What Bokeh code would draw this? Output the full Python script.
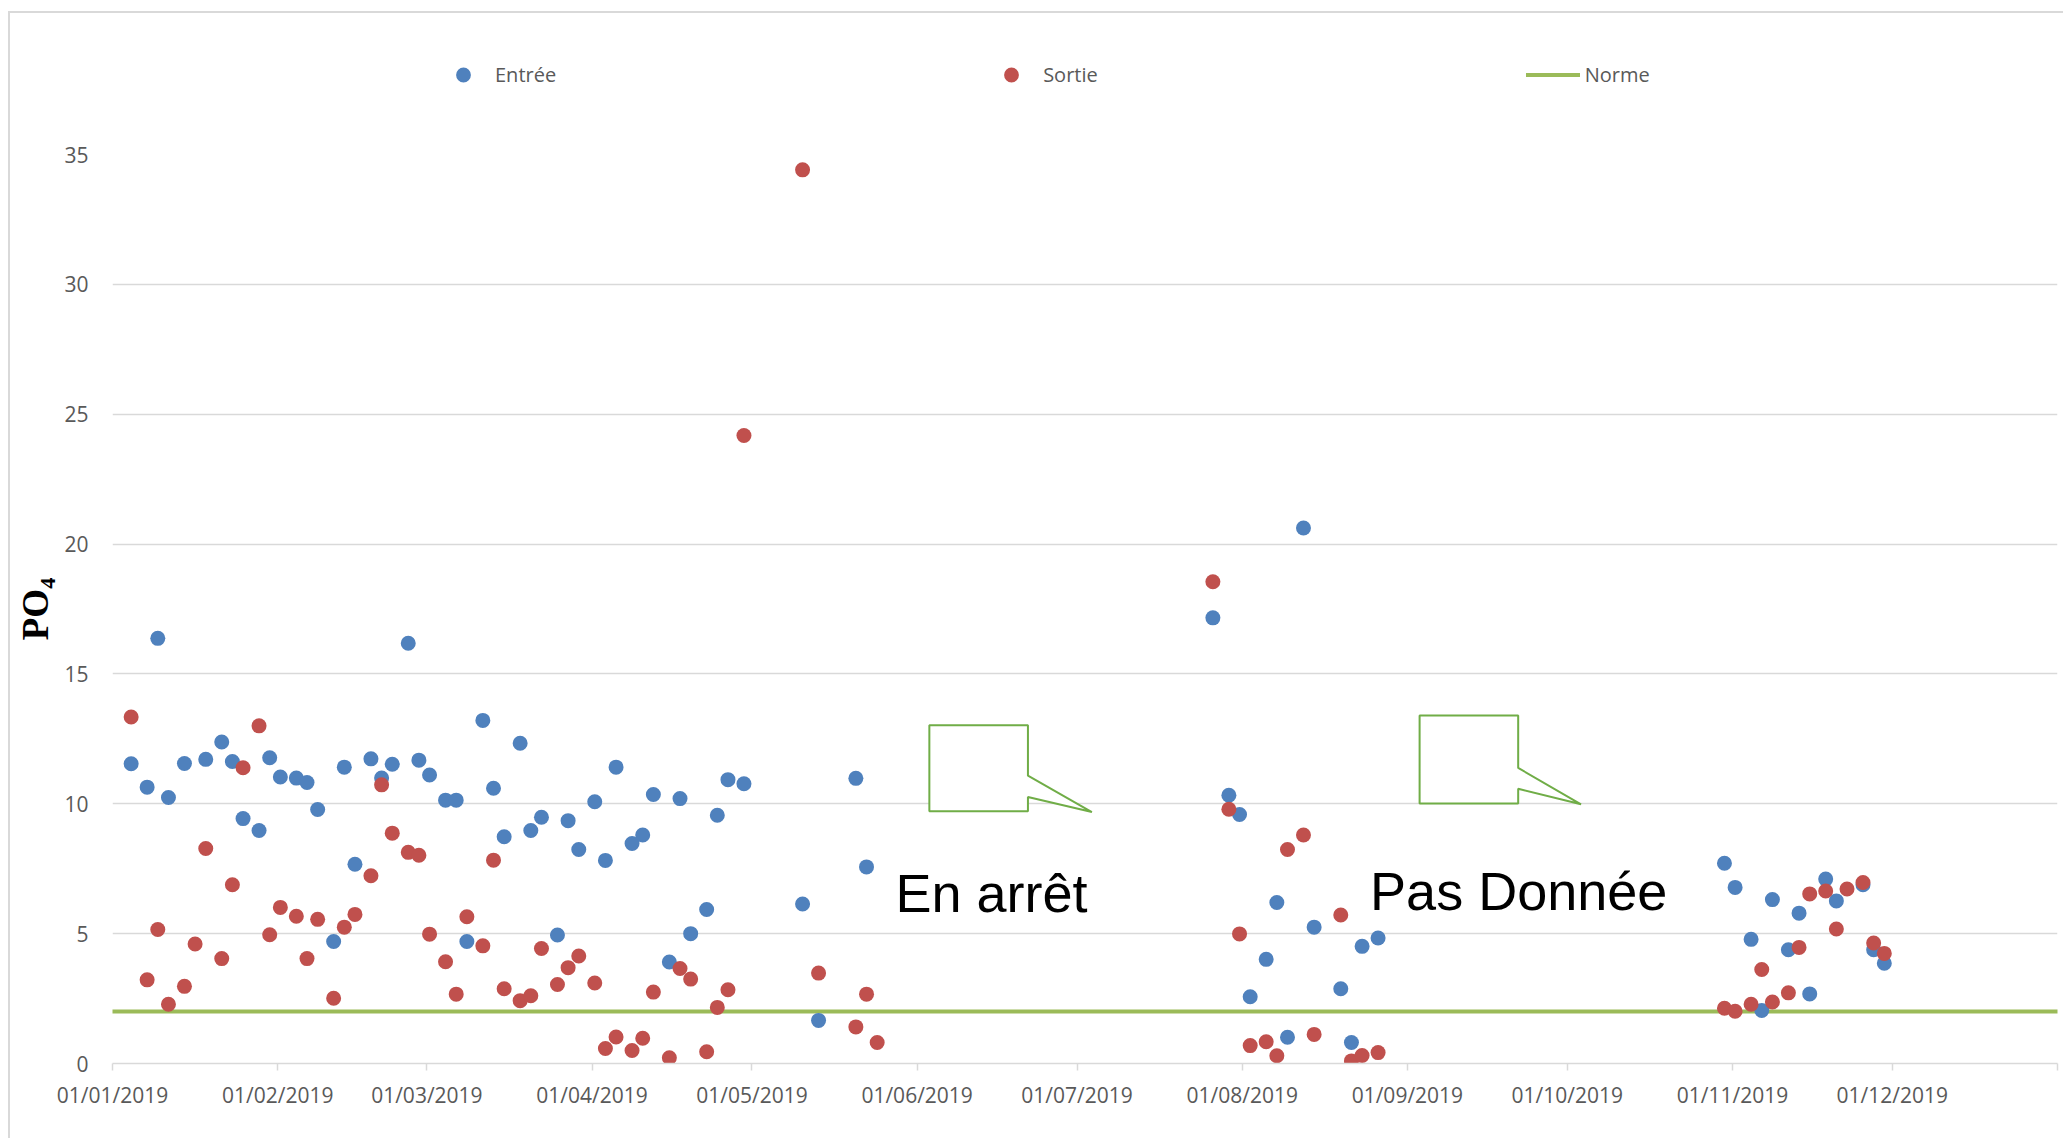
import pandas as pd
from bokeh.plotting import figure
from bokeh.layouts import column
from bokeh.models import (Range1d, FixedTicker, DatetimeTickFormatter, Legend, LegendItem,
                          Label, PolyAnnotation, ColumnDataSource)
from bokeh.embed import file_html
from bokeh.resources import INLINE

NaN = float("nan")

# Sampling dates (Mon / Wed / Fri campaigns) and PO4 concentrations
sample_dates = [
    "2019-01-04", "2019-01-07", "2019-01-09", "2019-01-11", "2019-01-14", "2019-01-16",
    "2019-01-18", "2019-01-21", "2019-01-23", "2019-01-25", "2019-01-28", "2019-01-30",
    "2019-02-01", "2019-02-04", "2019-02-06", "2019-02-08", "2019-02-11", "2019-02-13",
    "2019-02-15", "2019-02-18", "2019-02-20", "2019-02-22", "2019-02-25", "2019-02-27",
    "2019-03-01", "2019-03-04", "2019-03-06", "2019-03-08", "2019-03-11", "2019-03-13",
    "2019-03-15", "2019-03-18", "2019-03-20", "2019-03-22", "2019-03-25", "2019-03-27",
    "2019-03-29", "2019-04-01", "2019-04-03", "2019-04-05", "2019-04-08", "2019-04-10",
    "2019-04-12", "2019-04-15", "2019-04-17", "2019-04-19", "2019-04-22", "2019-04-24",
    "2019-04-26", "2019-04-29", "2019-05-10", "2019-05-13", "2019-05-20", "2019-05-22",
    "2019-05-24",
    "2019-07-26", "2019-07-29", "2019-07-31", "2019-08-02", "2019-08-05", "2019-08-07",
    "2019-08-09", "2019-08-12", "2019-08-14", "2019-08-19", "2019-08-21", "2019-08-23",
    "2019-08-26",
    "2019-10-30", "2019-11-01", "2019-11-04", "2019-11-06", "2019-11-08", "2019-11-11",
    "2019-11-13", "2019-11-15", "2019-11-18", "2019-11-20", "2019-11-22", "2019-11-25",
    "2019-11-27", "2019-11-29",
]

entree = [
    11.54, 10.64, 16.37, 10.24, 11.55, NaN,
    11.71, 12.38, 11.63, 9.43, 8.97, 11.77,
    11.03, 10.99, 10.82, 9.78, 4.70, 11.41,
    7.67, 11.73, 10.99, 11.52, 16.18, 11.68,
    11.11, 10.14, 10.14, 4.70, 13.21, 10.60,
    8.73, 12.33, 8.97, 9.48, 4.95, 9.35,
    8.24, 10.08, 7.82, 11.41, 8.47, 8.80,
    10.36, 3.91, 10.20, 5.00, 5.93, 9.56,
    10.93, 10.77, 6.14, 1.66, 10.98, 7.57,
    NaN,
    17.16, 10.33, 9.59, 2.57, 4.01, 6.20,
    1.01, 20.62, 5.25, 2.88, 0.81, 4.51,
    4.83,
    7.71, 6.78, 4.78, 2.04, 6.31, 4.38,
    5.79, 2.68, 7.10, 6.26, NaN, 6.88,
    4.38, 3.86,
]

sortie = [
    13.34, 3.22, 5.16, 2.28, 2.97, 4.60,
    8.28, 4.04, 6.88, 11.39, 13.00, 4.96,
    6.01, 5.67, 4.04, 5.55, 2.51, 5.25,
    5.74, 7.23, 10.73, 8.87, 8.13, 8.02,
    4.98, 3.92, 2.67, 5.65, 4.53, 7.83,
    2.88, 2.42, 2.61, 4.43, 3.04, 3.69,
    4.14, 3.10, 0.58, 1.02, 0.50, 0.97,
    2.75, 0.22, 3.66, 3.25, 0.45, 2.16,
    2.84, 24.18, 34.41, 3.48, 1.41, 2.67,
    0.81,
    18.55, 9.79, 4.99, 0.69, 0.84, 0.30,
    8.24, 8.80, 1.12, 5.72, 0.10, 0.31,
    0.42,
    2.13, 2.01, 2.28, 3.62, 2.37, 2.72,
    4.47, 6.53, 6.64, 5.18, 6.72, 6.97,
    4.64, 4.24,
]

# Discharge standard
norme_dates = ["2019-01-01", "2020-01-01"]
norme_values = [2, 2]

month_ticks = [
    "2019-01-01", "2019-02-01", "2019-03-01", "2019-04-01", "2019-05-01", "2019-06-01",
    "2019-07-01", "2019-08-01", "2019-09-01", "2019-10-01", "2019-11-01", "2019-12-01",
    "2020-01-01",
]
y_ticks = [0, 5, 10, 15, 20, 25, 30, 35]

# Callout boxes and their captions
callout_stop_x = ["2019-06-03 07:00", "2019-06-21 19:00", "2019-06-21 19:00", "2019-07-03 19:00",
                  "2019-06-21 19:00", "2019-06-21 19:00", "2019-06-03 07:00"]
callout_stop_y = [13.02, 13.02, 11.08, 9.68, 10.26, 9.71, 9.71]
callout_nodata_x = ["2019-09-03 07:00", "2019-09-21 19:00", "2019-09-21 19:00", "2019-10-03 14:00",
                    "2019-09-21 19:00", "2019-09-21 19:00", "2019-09-03 07:00"]
callout_nodata_y = [13.40, 13.40, 11.38, 9.98, 10.58, 10.01, 10.01]
caption_stop = ("2019-05-27 22:00", 6.55, "En arrêt")
caption_nodata = ("2019-08-25 00:00", 6.65, "Pas Donnée")


def ms(d):
    return pd.Timestamp(d).value / 1e6


BLUE = "#4F81BD"
RED = "#C0504D"
GREEN = "#9BBB59"
CALLOUT = "#70AD47"
GRID = "#D9D9D9"
TXT = "#595959"

LEGEND_H = 130
TOTAL_W, TOTAL_H = 2063, 1138

# each sample is centred on its day, as on a date axis
dates = pd.to_datetime(sample_dates) + pd.Timedelta(hours=12)
src = ColumnDataSource(dict(date=dates, entree=entree, sortie=sortie))
norme_src = ColumnDataSource(dict(date=pd.to_datetime(norme_dates), value=norme_values))

# ---- main chart -------------------------------------------------------------
p = figure(width=TOTAL_W, height=TOTAL_H - LEGEND_H, x_axis_type="datetime",
           x_range=Range1d(pd.Timestamp("2019-01-01"), pd.Timestamp("2020-01-01")),
           y_range=Range1d(0, 35),
           output_backend="svg", toolbar_location=None,
           min_border_left=112, min_border_right=6, min_border_top=24, min_border_bottom=75)
p.outline_line_color = None
p.background_fill_color = "white"
p.border_fill_alpha = 0
p.styles = {"background": "linear-gradient(#D9D9D9, #D9D9D9) 8px 0px / 2px 100% no-repeat, white"}

line_kw = dict(line_color=GREEN, line_width=4, line_cap="round")
in_kw = dict(size=15, fill_color=BLUE, line_color=None)
out_kw = dict(size=15, fill_color=RED, line_color=None)

p.line("date", "value", source=norme_src, **line_kw)
p.scatter("date", "entree", source=src, **in_kw)
p.scatter("date", "sortie", source=src, **out_kw)

xa = p.xaxis[0]
xa.ticker = FixedTicker(ticks=[ms(d) for d in month_ticks])
xa.formatter = DatetimeTickFormatter(days="%d/%m/%Y", months="%d/%m/%Y", years="%d/%m/%Y")
xa.major_label_overrides = {ms("2020-01-01"): ""}
xa.axis_line_color = GRID
xa.axis_line_width = 1.5
xa.major_tick_line_color = GRID
xa.major_tick_line_width = 1.5
xa.major_tick_out = 7
xa.major_tick_in = 0
xa.minor_tick_line_color = None
xa.major_label_standoff = 10
xa.major_label_text_font = "Open Sans"
xa.major_label_text_font_size = "21px"
xa.major_label_text_color = TXT

ya = p.yaxis[0]
ya.ticker = FixedTicker(ticks=y_ticks)
ya.axis_line_color = None
ya.major_tick_line_color = None
ya.minor_tick_line_color = None
ya.major_label_standoff = 18
ya.major_label_text_font = "Open Sans"
ya.major_label_text_font_size = "21px"
ya.major_label_text_color = TXT
ya.axis_label = "PO₄"
ya.axis_label_text_font = "Liberation Serif"
ya.axis_label_text_font_style = "bold"
ya.axis_label_text_font_size = "37px"
ya.axis_label_text_color = "black"
ya.axis_label_standoff = 5

p.xgrid.grid_line_color = None
p.ygrid.grid_line_color = GRID
p.ygrid.grid_line_width = 1.5

for xs, ys in ((callout_stop_x, callout_stop_y), (callout_nodata_x, callout_nodata_y)):
    p.add_layout(PolyAnnotation(xs=[ms(x) for x in xs], ys=ys,
                                fill_color="white", fill_alpha=1,
                                line_color=CALLOUT, line_alpha=1, line_width=2))

for cx, cy, txt in (caption_stop, caption_nodata):
    p.add_layout(Label(x=ms(cx), y=cy, text=txt, text_font="Liberation Sans",
                       text_font_size="54px", text_color="black", text_baseline="alphabetic"))

# ---- legend strip across the top ---------------------------------------------
lf = figure(width=TOTAL_W, height=LEGEND_H, x_range=Range1d(0, 1), y_range=Range1d(0, 1),
            x_axis_location=None, y_axis_location=None, min_border=0,
            output_backend="svg", toolbar_location=None)
lf.grid.visible = False
lf.outline_line_color = None
lf.background_fill_alpha = 0
lf.border_fill_alpha = 0
lf.styles = {"background": ("linear-gradient(#D9D9D9, #D9D9D9) 8px 11px / 2px 100% no-repeat, "
                            "linear-gradient(#D9D9D9, #D9D9D9) 8px 11px / 100% 2px no-repeat, white")}

# legend keys only: one undrawn sample each, so the key glyphs get their styling
k_in = lf.scatter(x=[NaN], y=[NaN], **in_kw)
k_out = lf.scatter(x=[NaN], y=[NaN], **out_kw)
k_norme = lf.line(x=[NaN, NaN], y=[NaN, NaN], **line_kw)

legend = Legend(items=[LegendItem(label="Entrée", renderers=[k_in]),
                       LegendItem(label="Sortie", renderers=[k_out]),
                       LegendItem(label="Norme", renderers=[k_norme])],
                orientation="horizontal", location=(324, LEGEND_H - 92.5), spacing=428,
                padding=0, margin=0, border_line_color=None, background_fill_alpha=0,
                glyph_width=54, glyph_height=37, label_standoff=5,
                label_text_font="Open Sans", label_text_font_size="20px",
                label_text_color=TXT)
lf.add_layout(legend, "center")

layout = column(lf, p, spacing=0)
open("out.html", "w").write(file_html(layout, INLINE))
